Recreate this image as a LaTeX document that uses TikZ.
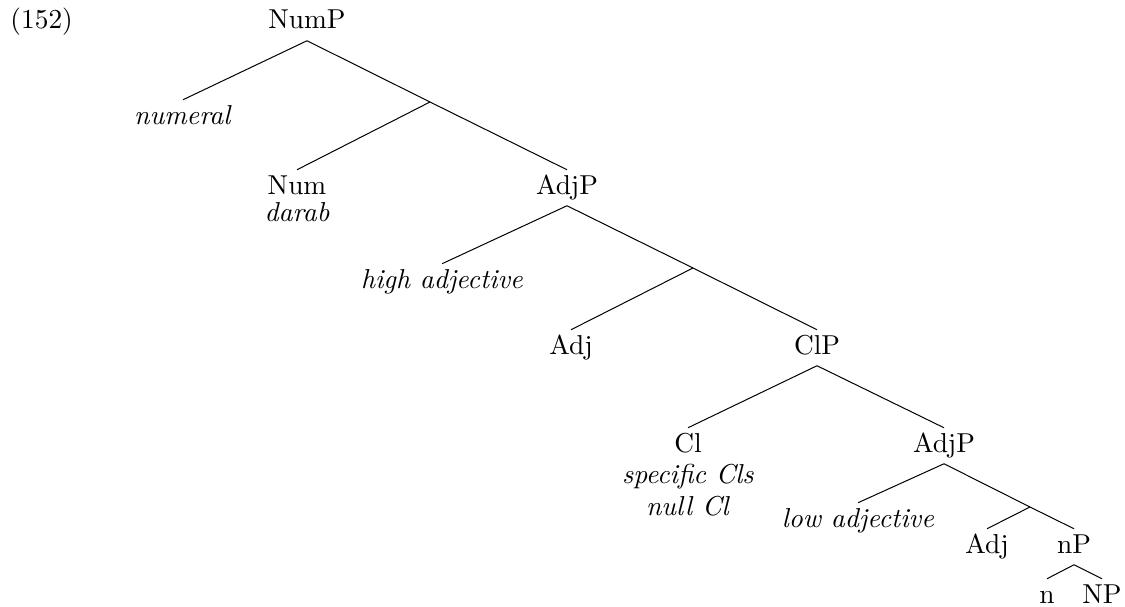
\documentclass[tikz,border=0pt,11pt]{standalone}
\begin{document}
\begin{tikzpicture}[x = 0.4pt, y = -0.4pt,
  lbl/.style = {anchor = base, inner sep = 2.5pt, text height = 7pt, text depth = 2pt}]
\useasboundingbox (0, 0) rectangle (1125, 606);

\node[anchor = base west, inner sep = 0pt] (exnum) at (10, 29) {(152)};

% NumP
\node[lbl] (numP) at (307, 29) {NumP};
\node[lbl] (numeral) at (183, 124) {\textit{numeral}};
\coordinate (numbar) at (430, 102);
\node[lbl] (num) at (297, 194) {Num};
\node[lbl] (darab) at (297, 221) {\textit{darab}};

% high AdjP
\node[lbl] (adjP) at (567, 194) {AdjP};
\node[lbl] (highadj) at (442, 288) {\textit{high adjective}};
\coordinate (adjbar) at (693, 268);
\node[lbl] (adj) at (571, 354) {Adj};

% ClP
\node[lbl] (clP) at (817, 354) {ClP};
\node[lbl] (cl) at (688, 452) {Cl};
\node[lbl] (speccl) at (688, 483) {\textit{specific Cls}};
\node[lbl] (nullcl) at (688, 515) {\textit{null Cl}};

% low AdjP
\node[lbl] (lowadjP) at (944, 452) {AdjP};
\node[lbl] (lowadj) at (858, 527) {\textit{low adjective}};
\coordinate (lowbar) at (1030, 507);
\node[lbl] (lowadjhead) at (987, 553) {Adj};
\node[lbl] (nP) at (1074, 553) {nP};
\node[lbl] (n) at (1047, 603) {n};
\node[lbl] (NP) at (1102, 603) {NP};

\draw (numP.south) -- (numeral.north);
\draw (numP.south) -- (numbar) -- (adjP.north);
\draw (numbar) -- (num.north);

\draw (adjP.south) -- (highadj.north);
\draw (adjP.south) -- (adjbar) -- (clP.north);
\draw (adjbar) -- (adj.north);

\draw (clP.south) -- (cl.north);
\draw (clP.south) -- (lowadjP.north);

\draw (lowadjP.south) -- (lowadj.north);
\draw (lowadjP.south) -- (lowbar) -- (nP.north);
\draw (lowbar) -- (lowadjhead.north);

\draw (nP.south) -- (n.north);
\draw (nP.south) -- (NP.north);
\end{tikzpicture}
\end{document}
